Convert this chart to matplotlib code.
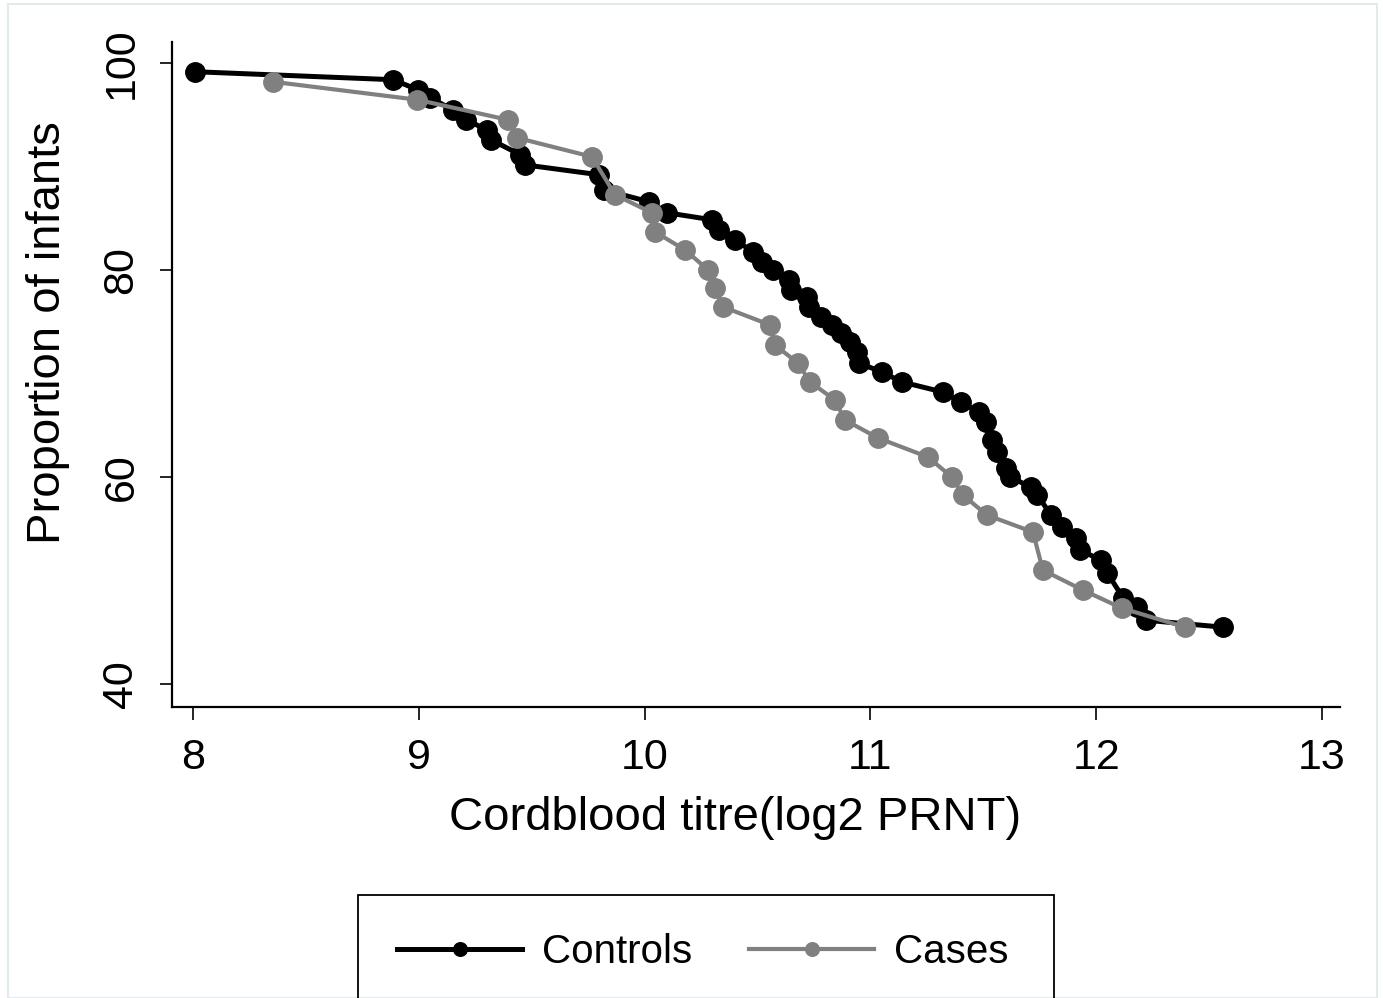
import matplotlib
matplotlib.use("Agg")
import matplotlib.pyplot as plt
from matplotlib.patches import Rectangle

plt.rcParams['font.family'] = ['Liberation Sans', 'DejaVu Sans']

# Data
controls_x = [8.01, 8.886, 8.996, 9.05, 9.15, 9.21, 9.30, 9.32, 9.45, 9.47,
              9.80, 9.82, 10.02, 10.10, 10.30, 10.33, 10.40, 10.48, 10.52, 10.57,
              10.64, 10.65, 10.72, 10.73, 10.78, 10.83, 10.87, 10.91, 10.94, 10.95,
              11.05, 11.14, 11.32, 11.40, 11.48, 11.51, 11.54, 11.56, 11.60, 11.62,
              11.71, 11.74, 11.80, 11.85, 11.91, 11.93, 12.02, 12.05, 12.12, 12.18,
              12.22, 12.56]
controls_y = [99.13, 98.36, 97.39, 96.62, 95.46, 94.49, 93.53, 92.56, 91.11, 90.14,
              89.18, 87.73, 86.57, 85.51, 84.83, 83.86, 82.90, 81.74, 80.77, 80.0,
              79.03, 78.07, 77.39, 76.43, 75.46, 74.69, 73.91, 73.04, 72.08, 71.01,
              70.14, 69.18, 68.21, 67.25, 66.28, 65.31, 63.57, 62.42, 60.87, 60.0,
              59.03, 58.26, 56.33, 55.17, 54.11, 52.95, 51.98, 50.72, 48.31, 47.44,
              46.18, 45.51]

cases_x = [8.354, 8.992, 9.395, 9.435, 9.767, 9.869, 10.033, 10.046, 10.179, 10.281,
           10.312, 10.347, 10.555, 10.577, 10.679, 10.733, 10.843, 10.887, 11.034, 11.255,
           11.361, 11.410, 11.516, 11.720, 11.764, 11.942, 12.114, 12.393]
cases_y = [98.16, 96.43, 94.49, 92.75, 90.92, 87.25, 85.51, 83.67, 81.93, 80.0,
           78.26, 76.43, 74.69, 72.75, 71.01, 69.18, 67.44, 65.51, 63.77, 61.93,
           60.0, 58.26, 56.33, 54.69, 51.01, 49.08, 47.34, 45.51]

x_ticks = [8, 9, 10, 11, 12, 13]
y_ticks = [40, 60, 80, 100]

W, H = 1383, 998
fig = plt.figure(figsize=(W / 100, H / 100), dpi=100)
fig.patch.set_facecolor('white')

# faint outer border
fig.patches.append(Rectangle((8 / W, 0), (1377 - 8) / W, 1 - 4 / H,
                             transform=fig.transFigure, fill=False,
                             edgecolor='#e3eaee', linewidth=1.5))

ax = fig.add_axes([172 / W, 1 - 707 / H, (1340 - 172) / W, (707 - 42) / H])
ax.plot(controls_x, controls_y, color='black', linewidth=3.6, marker='o',
        markersize=14, label='Controls', zorder=3)
ax.plot(cases_x, cases_y, color='#808080', linewidth=3.0, marker='o',
        markersize=14, label='Cases', zorder=4)

ax.set_xlim(7.907, 13.08)
ax.set_ylim(37.8, 102.0)
ax.set_xticks(x_ticks)
ax.set_yticks(y_ticks)
ax.spines['top'].set_visible(False)
ax.spines['right'].set_visible(False)
for s in ('left', 'bottom'):
    ax.spines[s].set_linewidth(1.6)
ax.tick_params(axis='both', length=9, width=1.2, labelsize=31)
ax.tick_params(axis='x', pad=13)
ax.tick_params(axis='y', pad=13)
for lab in ax.get_yticklabels():
    lab.set_rotation(90)
    lab.set_va('center')

ax.set_xlabel('Cordblood titre(log2 PRNT)', fontsize=34)
ax.set_ylabel('Proportion of infants', fontsize=34)
ax.xaxis.set_label_coords((735 - 172) / 1168, -(818 - 707) / 665)
ax.yaxis.set_label_coords(-(172 - 48) / 1168, 1 - (333 - 42) / 665)
ax.xaxis.label.set_va('center')
ax.yaxis.label.set_va('center')

# legend box
fig.patches.append(Rectangle((358 / W, -0.05), (1054 - 358) / W, (1 - 895 / H) + 0.05,
                             transform=fig.transFigure, fill=False,
                             edgecolor='black', linewidth=1.3))
handles, labels = ax.get_legend_handles_labels()
fig.legend(handles, labels, loc='center', bbox_to_anchor=(703 / W, 1 - 952 / H),
           ncol=2, frameon=False, fontsize=29, handlelength=3.1,
           handletextpad=0.5, columnspacing=1.4, markerscale=0.7)

fig.savefig('out.png', dpi=100)
